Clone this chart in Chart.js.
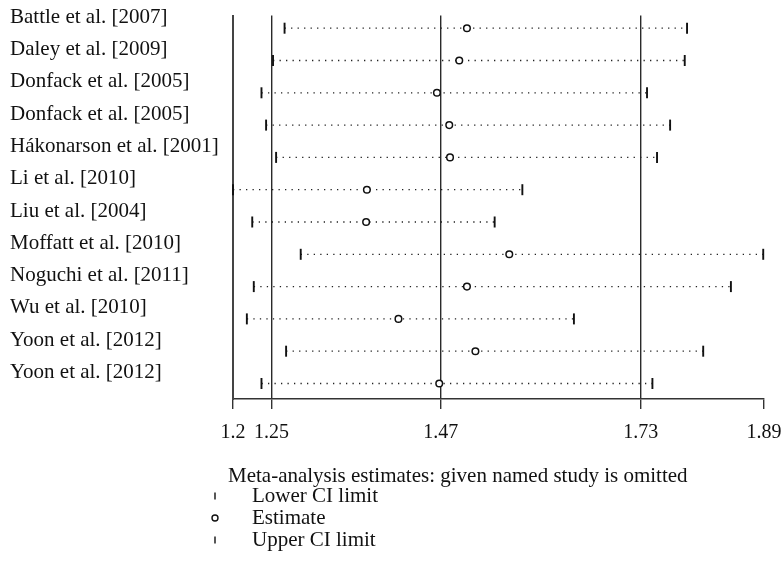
<!DOCTYPE html>
<html>
<head>
<meta charset="utf-8">
<script src="https://cdn.jsdelivr.net/npm/chart.js@4.4.1/dist/chart.umd.min.js"></script>
<style>
  html, body { margin: 0; padding: 0; background: #fff; }
  #wrap { position: relative; width: 782px; height: 582px; }
</style>
</head>
<body>
<div id="wrap"><canvas id="myChart"></canvas></div>
<script>
const studies = [
  "Battle et al. [2007]",
  "Daley et al. [2009]",
  "Donfack et al. [2005]",
  "Donfack et al. [2005]",
  "Hákonarson et al. [2001]",
  "Li et al. [2010]",
  "Liu et al. [2004]",
  "Moffatt et al. [2010]",
  "Noguchi et al. [2011]",
  "Wu et al. [2010]",
  "Yoon et al. [2012]",
  "Yoon et al. [2012]"
];
const lowerCI   = [1.267, 1.252, 1.237, 1.243, 1.256, 1.200, 1.225, 1.288, 1.227, 1.218, 1.269, 1.237];
const estimates = [1.504, 1.494, 1.465, 1.481, 1.482, 1.374, 1.373, 1.559, 1.504, 1.415, 1.515, 1.468];
const upperCI   = [1.790, 1.787, 1.738, 1.768, 1.751, 1.576, 1.540, 1.889, 1.847, 1.643, 1.811, 1.745];
const overall = [1.25, 1.47, 1.73]; // pooled lower / estimate / upper
const xTicks = [1.2, 1.25, 1.47, 1.73, 1.89];
const legendTitle = "Meta-analysis estimates: given named study is omitted";
const legendItems = ["Lower CI limit", "Estimate", "Upper CI limit"];

const serif = "'Liberation Serif', 'Times New Roman', serif";
const ink = '#111';

// dotted line from lower to upper limit for every study
const ciLines = studies.map((s, i) => ({
  type: 'line',
  label: s,
  data: [{ x: lowerCI[i], y: i + 1 }, { x: upperCI[i], y: i + 1 }],
  borderColor: '#222',
  borderWidth: 1.3,
  borderDash: [1.3, 5.2],
  pointRadius: 0,
  order: 2
}));

const legendPlugin = {
  id: 'studyLegend',
  afterDraw(chart) {
    const ctx = chart.ctx;
    ctx.save();
    ctx.font = '21px ' + serif;
    ctx.fillStyle = ink;
    ctx.strokeStyle = ink;
    ctx.textBaseline = 'alphabetic';
    ctx.fillText(legendTitle, 228, 482);
    legendItems.forEach((t, i) => {
      const y = 502 + i * 22;
      ctx.fillText(t, 252, y);
      const my = y - 6;
      ctx.lineWidth = 1.4;
      ctx.beginPath();
      if (i === 1) {
        ctx.arc(215, my, 3, 0, Math.PI * 2);
      } else {
        ctx.moveTo(215, my - 3.5);
        ctx.lineTo(215, my + 3.5);
      }
      ctx.stroke();
    });
    ctx.restore();
  }
};

new Chart(document.getElementById('myChart'), {
  type: 'scatter',
  data: {
    datasets: [
      {
        label: legendItems[0],
        data: lowerCI.map((v, i) => ({ x: v, y: i + 1 })),
        pointStyle: 'line',
        rotation: 90,
        pointRadius: 5.5,
        borderWidth: 1.9,
        borderColor: ink,
        clip: false,
        order: 0
      },
      {
        label: legendItems[1],
        data: estimates.map((v, i) => ({ x: v, y: i + 1 })),
        pointStyle: 'circle',
        pointRadius: 3.3,
        borderWidth: 1.5,
        borderColor: ink,
        backgroundColor: '#fff',
        order: 0
      },
      {
        label: legendItems[2],
        data: upperCI.map((v, i) => ({ x: v, y: i + 1 })),
        pointStyle: 'line',
        rotation: 90,
        pointRadius: 5.5,
        borderWidth: 1.9,
        borderColor: ink,
        clip: false,
        order: 0
      },
      ...ciLines
    ]
  },
  plugins: [legendPlugin],
  options: {
    responsive: true,
    maintainAspectRatio: false,
    animation: false,
    layout: { padding: { left: 10, right: 18, top: 13, bottom: 120 } },
    plugins: {
      legend: { display: false },
      tooltip: { enabled: false }
    },
    scales: {
      x: {
        type: 'linear',
        min: 1.2,
        max: 1.89,
        afterBuildTicks: s => { s.ticks = xTicks.map(v => ({ value: v })); },
        afterFit: s => { s.height = 63; s.paddingRight = 0; s.paddingLeft = 0; },
        ticks: {
          autoSkip: false,
          maxRotation: 0,
          padding: 12,
          color: ink,
          font: { family: serif, size: 20 },
          callback: v => String(v)
        },
        grid: {
          color: c => (c.tick && overall.includes(c.tick.value)) ? '#2a2a2a' : 'rgba(0,0,0,0)',
          lineWidth: 1.4,
          tickColor: '#333',
          tickLength: 10
        },
        border: { color: '#333', width: 1.6 }
      },
      y: {
        type: 'linear',
        reverse: true,
        min: 0.61,
        max: 12.48,
        afterBuildTicks: s => { s.ticks = studies.map((_, i) => ({ value: i + 1 })); },
        afterFit: s => { s.width = 223; },
        ticks: {
          autoSkip: false,
          crossAlign: 'far',
          labelOffset: -11,
          color: ink,
          font: { family: serif, size: 21 },
          callback: v => studies[Math.round(v) - 1]
        },
        grid: { display: false },
        border: { display: true, color: '#444', width: 2 }
      }
    }
  }
});
</script>
</body>
</html>
